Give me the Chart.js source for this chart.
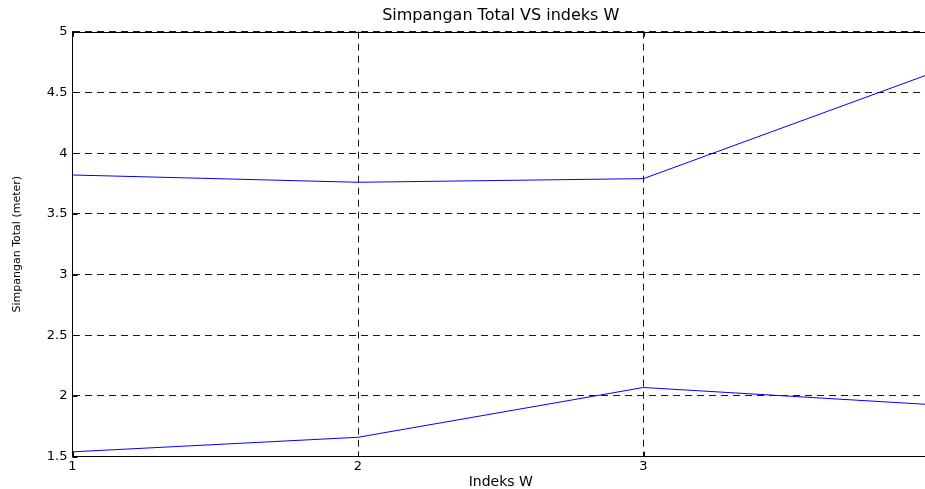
<!DOCTYPE html>
<html>
<head>
<meta charset="utf-8">
<title>Simpangan Total VS indeks W</title>
<script src="https://cdn.jsdelivr.net/npm/chart.js@4.4.1/dist/chart.umd.min.js"></script>
<style>
    html, body { margin: 0; padding: 0; background: #fff; overflow: hidden; }
    #wrap { position: relative; width: 932px; height: 489px; }
</style>
</head>
<body>
<div id="wrap"><canvas id="chart"></canvas></div>
<script>
// data
var indeksW = [1, 2, 3, 4];
var simpanganAtas = [3.82, 3.76, 3.79, 4.65];
var simpanganBawah = [1.54, 1.66, 2.07, 1.93];
var yTicks = [1.5, 2, 2.5, 3, 3.5, 4, 4.5, 5];
var judul = 'Simpangan Total VS indeks W';

function toPoints(xs, ys) {
    var pts = [];
    for (var i = 0; i < xs.length; i++) {
        pts.push({ x: xs[i], y: ys[i] });
    }
    return pts;
}

// matlab style frame: solid top line and small inward ticks
var framePlugin = {
    id: 'frame',
    afterDraw: function(chart) {
        var ctx = chart.ctx;
        var a = chart.chartArea;
        var xs = chart.scales.x;
        var ys = chart.scales.y;
        ctx.save();
        ctx.strokeStyle = '#000';
        ctx.lineWidth = 1;
        ctx.setLineDash([]);
        ctx.beginPath();
        ctx.moveTo(a.left, Math.round(a.top) + 0.5);
        ctx.lineTo(a.right, Math.round(a.top) + 0.5);
        for (var i = 0; i < xs.ticks.length; i++) {
            var px = Math.round(xs.getPixelForValue(xs.ticks[i].value)) + 0.5;
            ctx.moveTo(px, a.bottom);
            ctx.lineTo(px, a.bottom - 5);
            ctx.moveTo(px, a.top);
            ctx.lineTo(px, a.top + 5);
        }
        for (var j = 0; j < ys.ticks.length; j++) {
            var py = Math.round(ys.getPixelForValue(ys.ticks[j].value)) + 0.5;
            ctx.moveTo(a.left, py);
            ctx.lineTo(a.left + 5, py);
        }
        ctx.stroke();
        ctx.restore();
    }
};

var ctx = document.getElementById('chart').getContext('2d');
var chart = new Chart(ctx, {
    type: 'line',
    data: {
        datasets: [{
            data: toPoints(indeksW, simpanganAtas),
            borderColor: '#0000ff',
            borderWidth: 1,
            pointRadius: 0,
            tension: 0,
            fill: false
        }, {
            data: toPoints(indeksW, simpanganBawah),
            borderColor: '#0000ff',
            borderWidth: 1,
            pointRadius: 0,
            tension: 0,
            fill: false
        }]
    },
    options: {
        responsive: true,
        maintainAspectRatio: false,
        animation: false,
        layout: { padding: { left: 0, right: 3, top: 0, bottom: 0 } },
        plugins: {
            legend: { display: false },
            tooltip: { enabled: false },
            title: { display: false }
        },
        scales: {
            // top axis only carries the title so it is centred over the plot area
            judul: {
                type: 'linear',
                position: 'top',
                min: 1,
                max: 4,
                afterFit: function(scale) { scale.height = 31.7; },
                ticks: { display: false },
                grid: { display: false, drawTicks: false },
                border: { display: false },
                title: {
                    display: true,
                    text: judul,
                    color: '#000',
                    font: { family: 'DejaVu Sans', size: 16, lineHeight: 1.2 },
                    padding: { top: 6, bottom: 0 }
                }
            },
            x: {
                type: 'linear',
                min: 1,
                max: 4,
                afterFit: function(scale) { scale.height = 32.3; },
                afterBuildTicks: function(scale) {
                    scale.ticks = indeksW.map(function(v) { return { value: v }; });
                },
                ticks: {
                    color: '#000',
                    padding: 2,
                    maxRotation: 0,
                    font: { family: 'DejaVu Sans', size: 13 },
                    callback: function(v) { return v === 4 ? '' : String(v); }
                },
                grid: { color: '#1a1a1a', lineWidth: 1, drawTicks: false },
                border: { display: true, color: '#000', width: 1, dash: [7, 5] },
                title: {
                    display: true,
                    text: 'Indeks W',
                    color: '#000',
                    font: { family: 'DejaVu Sans', size: 14, lineHeight: 1 },
                    padding: { top: 0, bottom: 0 }
                }
            },
            y: {
                min: 1.5,
                max: 5,
                afterFit: function(scale) { scale.width = 72.5; },
                afterBuildTicks: function(scale) {
                    scale.ticks = yTicks.map(function(v) { return { value: v }; });
                },
                ticks: {
                    color: '#000',
                    padding: 5,
                    font: { family: 'DejaVu Sans', size: 13 },
                    callback: function(v) { return String(v); }
                },
                grid: { color: '#1a1a1a', lineWidth: 1, drawTicks: false },
                border: { display: true, color: '#000', width: 1, dash: [7, 5] },
                title: {
                    display: true,
                    text: 'Simpangan Total (meter)',
                    color: '#000',
                    font: { family: 'DejaVu Sans', size: 11, lineHeight: 1.2 },
                    padding: { top: 10.4, bottom: 0 }
                }
            }
        }
    },
    plugins: [framePlugin]
});
</script>
</body>
</html>
